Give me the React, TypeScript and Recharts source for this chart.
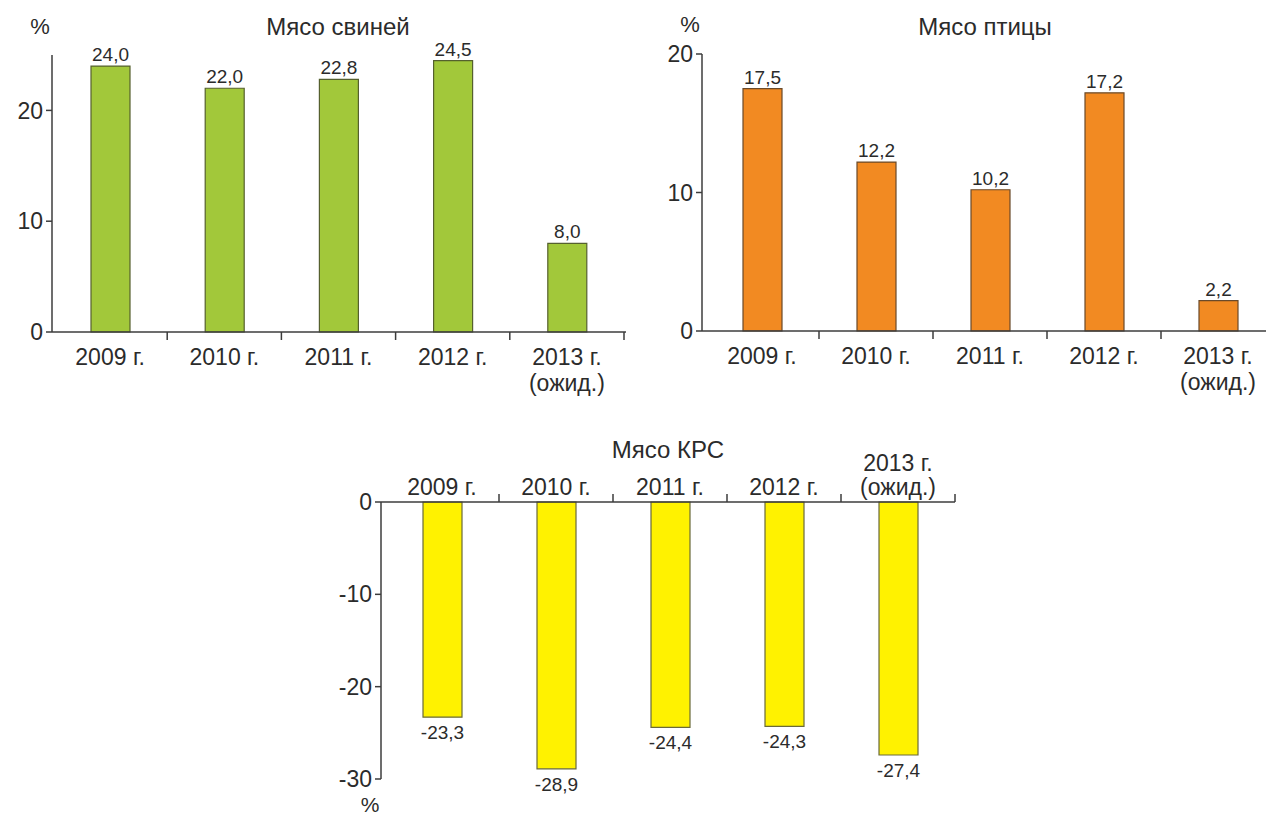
import React from 'react';
import { BarChart, Bar, XAxis, YAxis, LabelList } from 'recharts';

const categories = ['2009 г.', '2010 г.', '2011 г.', '2012 г.', '2013 г.\n(ожид.)'];
const porkValues = [24.0, 22.0, 22.8, 24.5, 8.0];
const poultryValues = [17.5, 12.2, 10.2, 17.2, 2.2];
const beefValues = [-23.3, -28.9, -24.4, -24.3, -27.4];

const porkTicks = [0, 10, 20];
const poultryTicks = [0, 10, 20];
const beefTicks = [0, -10, -20, -30];

const titles = { pork: 'Мясо свиней', poultry: 'Мясо птицы', beef: 'Мясо КРС' };
const unit = '%';

const porkData = categories.map((c, i) => ({ name: c, value: porkValues[i] }));
const poultryData = categories.map((c, i) => ({ name: c, value: poultryValues[i] }));
const beefData = categories.map((c, i) => ({ name: c, value: beefValues[i] }));

const FONT = '"Liberation Sans", Arial, Helvetica, sans-serif';
const TEXT = '#2b2b2b';
const AXIS = '#3c3c3c';

const fmt = (v: number) => v.toFixed(1).replace('.', ',');

const makeXTick = (top: boolean) => (props: any) => {
  const { x, y, payload, index } = props;
  const off = payload && typeof payload.offset === 'number' ? payload.offset : 0;
  const lines = String(payload.value).split('\n');
  const dir = top ? -1 : 1;
  const fs = 23;
  const last = index === categories.length - 1;
  const textEls = lines.map((ln, i) => {
    let cy;
    if (top) {
      cy = y - 15 - (lines.length - 1 - i) * 24;
    } else {
      cy = y + 25 + i * 26;
    }
    return (
      <text key={i} x={x} y={cy + fs * 0.36} textAnchor="middle" fontSize={fs} fill={TEXT} fontFamily={FONT}>
        {ln}
      </text>
    );
  });
  return (
    <g>
      {index > 0 && off > 0 && (
        <line x1={x - off} x2={x - off} y1={y} y2={y + dir * 8} stroke={AXIS} strokeWidth={1.5} />
      )}
      {last && off > 0 && (
        <line x1={x + off} x2={x + off} y1={y} y2={y + dir * 8} stroke={AXIS} strokeWidth={1.5} />
      )}
      {textEls}
    </g>
  );
};

const ValueLabel = (props: any) => {
  const { x, y, width, height, value } = props;
  const topEdge = Math.min(y, y + height);
  const bottomEdge = Math.max(y, y + height);
  const cx = x + width / 2;
  const fs = 19;
  if (value >= 0) {
    return (
      <text x={cx} y={topEdge - 5} textAnchor="middle" fontSize={fs} fill={TEXT} fontFamily={FONT}>
        {fmt(value)}
      </text>
    );
  }
  return (
    <text x={cx} y={bottomEdge + 8 + fs * 0.72} textAnchor="middle" fontSize={fs} fill={TEXT} fontFamily={FONT}>
      {fmt(value)}
    </text>
  );
};

const yTickStyle = { fontSize: 23, fill: TEXT, fontFamily: FONT };

const abs = (left: number, top: number): React.CSSProperties => ({ position: 'absolute', left, top });

const Label = ({ x, y, text, size = 24 }: { x: number; y: number; text: string; size?: number }) => (
  <div
    style={{
      position: 'absolute',
      left: x - 200,
      top: y - size * 0.6,
      width: 400,
      textAlign: 'center',
      fontSize: size,
      lineHeight: `${size * 1.2}px`,
      fontFamily: FONT,
      color: TEXT,
      whiteSpace: 'nowrap',
    }}
  >
    {text}
  </div>
);

export default function App() {
  return (
    <div
      style={{
        position: 'absolute',
        left: 0,
        top: 0,
        width: 1266,
        height: 819,
        overflow: 'hidden',
        background: '#ffffff',
        fontFamily: FONT,
      }}
    >
      <Label x={40} y={27} text={unit} size={22} />
      <Label x={338} y={27} text={titles.pork} />
      <Label x={690} y={25} text={unit} size={22} />
      <Label x={985} y={27} text={titles.poultry} />
      <Label x={668} y={450} text={titles.beef} />
      <Label x={370} y={805} text={unit} size={21} />

      <div style={abs(0, 0)}>
        <BarChart width={640} height={400} data={porkData} margin={{ top: 55, right: 14, left: 0, bottom: 0 }}>
          <XAxis
            dataKey="name"
            height={68}
            interval={0}
            tickSize={0}
            tickMargin={0}
            tickLine={false}
            axisLine={{ stroke: AXIS, strokeWidth: 1.5 }}
            padding={{ left: 1, right: 2 }}
            tick={makeXTick(false)}
          />
          <YAxis
            width={52}
            domain={[0, 25]}
            ticks={porkTicks}
            interval={0}
            tickSize={6}
            tickMargin={3}
            tick={yTickStyle}
            tickLine={{ stroke: AXIS, strokeWidth: 1.5 }}
            axisLine={{ stroke: AXIS, strokeWidth: 1.5 }}
          />
          <Bar dataKey="value" fill="#a2c83a" stroke="#55602e" strokeWidth={1.2} barSize={39} isAnimationActive={false}>
            <LabelList dataKey="value" content={ValueLabel} />
          </Bar>
        </BarChart>
      </div>

      <div style={abs(650, 0)}>
        <BarChart width={640} height={400} data={poultryData} margin={{ top: 54, right: 15, left: 0, bottom: 0 }}>
          <XAxis
            dataKey="name"
            height={69}
            interval={0}
            tickSize={0}
            tickMargin={0}
            tickLine={false}
            axisLine={{ stroke: AXIS, strokeWidth: 1.5 }}
            padding={{ left: 3, right: 0 }}
            tick={makeXTick(false)}
          />
          <YAxis
            width={52}
            domain={[0, 20]}
            ticks={poultryTicks}
            interval={0}
            tickSize={6}
            tickMargin={3}
            tick={yTickStyle}
            tickLine={{ stroke: AXIS, strokeWidth: 1.5 }}
            axisLine={{ stroke: AXIS, strokeWidth: 1.5 }}
          />
          <Bar dataKey="value" fill="#f28a22" stroke="#6a4a2a" strokeWidth={1.2} barSize={39} isAnimationActive={false}>
            <LabelList dataKey="value" content={ValueLabel} />
          </Bar>
        </BarChart>
      </div>

      <div style={abs(330, 420)}>
        <BarChart width={640} height={399} data={beefData} margin={{ top: 0, right: 15, left: 0, bottom: 40 }}>
          <XAxis
            dataKey="name"
            orientation="top"
            height={82}
            interval={0}
            tickSize={0}
            tickMargin={0}
            tickLine={false}
            axisLine={{ stroke: AXIS, strokeWidth: 1.5 }}
            padding={{ left: 4, right: 0 }}
            tick={makeXTick(true)}
          />
          <YAxis
            width={51}
            domain={[-30, 0]}
            ticks={beefTicks}
            interval={0}
            tickSize={6}
            tickMargin={3}
            tick={yTickStyle}
            tickLine={{ stroke: AXIS, strokeWidth: 1.5 }}
            axisLine={{ stroke: AXIS, strokeWidth: 1.5 }}
          />
          <Bar dataKey="value" fill="#fff200" stroke="#6a6a3a" strokeWidth={1.2} barSize={39} isAnimationActive={false}>
            <LabelList dataKey="value" content={ValueLabel} />
          </Bar>
        </BarChart>
      </div>
    </div>
  );
}
